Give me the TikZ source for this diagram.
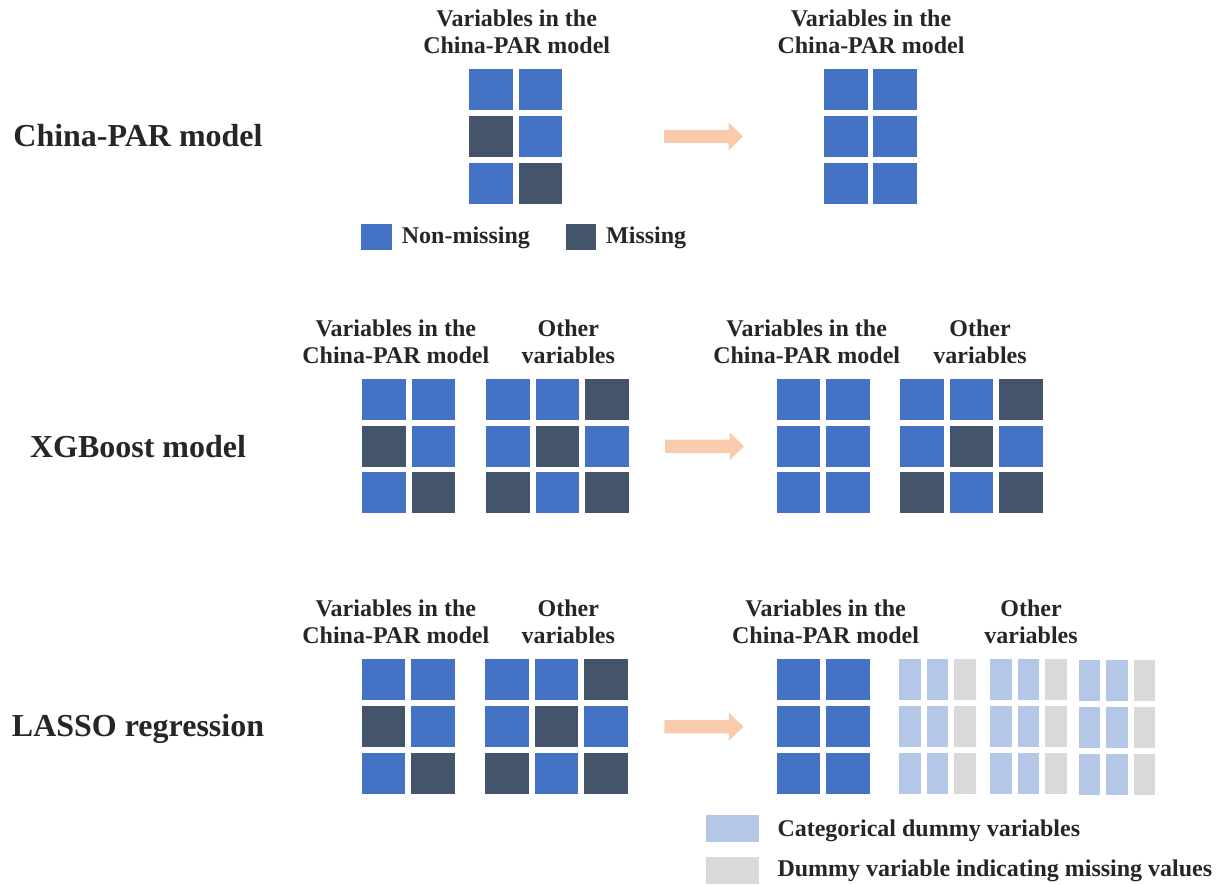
\documentclass[tikz,border=0pt]{standalone}
\usepackage{fontspec}
\setmainfont{Liberation Serif}
\begin{document}
\definecolor{nonmiss}{HTML}{4472C4}
\definecolor{miss}{HTML}{44546A}
\definecolor{catdummy}{HTML}{B4C7E7}
\definecolor{missdummy}{HTML}{D9D9D9}
\definecolor{arrowfill}{HTML}{F8CBAD}
\definecolor{ink}{HTML}{262626}
\begin{tikzpicture}[x=1pt,y=-1pt,
  cell/.style={inner sep=0,outer sep=0,draw=none,minimum width=43.5,minimum height=41,anchor=north west},
  slim/.style={cell,minimum width=21.5},
  % two-line headings: the base anchor sits on the second line
  title/.style={inner sep=0,align=center,anchor=base,text=ink,font=\bfseries\fontsize{24}{27.3}\selectfont},
  rowlabel/.style={inner sep=0,anchor=base,text=ink,font=\bfseries\fontsize{32}{36}\selectfont},
  legtext/.style={inner sep=0,anchor=base west,text=ink,font=\bfseries\fontsize{24}{27}\selectfont},
  legbox/.style={inner sep=0,outer sep=0,anchor=north west},
  blockarrow/.style={fill=arrowfill,draw=none}]
\useasboundingbox (0,0) rectangle (1225,884);

% block arrow: shaft start at (#1,#2)
\newcommand\blockarr[2]{%
  \fill[blockarrow] (#1,#2-6.7) -- ++(64.5,0) -- ++(0,-7.3) -- ++(14.5,14) -- ++(-14.5,14) -- ++(0,-7.3) -- ++(-64.5,0) -- cycle;}

% ---------------- row labels ----------------
\node[rowlabel] (lab1) at (138,146.7) {China-PAR model};
\node[rowlabel] (lab2) at (138,457) {XGBoost model};
\node[rowlabel] (lab3) at (138,736.7) {LASSO regression};

% ---------------- China-PAR model ----------------
\node[title] (t1l) at (516.7,53.3) {Variables in the\\China-PAR model};
\node[title] (t1r) at (871,53.3) {Variables in the\\China-PAR model};
\foreach \c/\r/\k in {0/0/nonmiss,1/0/nonmiss,0/1/miss,1/1/nonmiss,0/2/nonmiss,1/2/miss}
  \node[cell,fill=\k] (a-\c-\r) at ({469.3+\c*49.3},{69+\r*46.85}) {};
\foreach \c in {0,1} \foreach \r in {0,1,2}
  \node[cell,fill=nonmiss] (b-\c-\r) at ({824+\c*49.3},{69+\r*46.85}) {};
\blockarr{664}{136.5}

\node[legbox,fill=nonmiss,minimum width=31.6,minimum height=26] (k1) at (360.7,224) {};
\node[legtext] (k1t) at (401.7,243.3) {Non-missing};
\node[legbox,fill=miss,minimum width=30,minimum height=26] (k2) at (565.7,224) {};
\node[legtext] (k2t) at (606,243.3) {Missing};

% ---------------- XGBoost model ----------------
\node[title] (t2l) at (395.8,363.3) {Variables in the\\China-PAR model};
\node[title] (t2o) at (568.3,363.3) {Other\\variables};
\node[title] (t2r) at (806.7,363.3) {Variables in the\\China-PAR model};
\node[title] (t2p) at (980,363.3) {Other\\variables};
\foreach \c/\r/\k in {0/0/nonmiss,1/0/nonmiss,0/1/miss,1/1/nonmiss,0/2/nonmiss,1/2/miss}
  \node[cell,fill=\k] (c-\c-\r) at ({362.3+\c*49.6},{378.7+\r*46.85}) {};
\foreach \c/\r/\k in {0/0/nonmiss,1/0/nonmiss,2/0/miss,0/1/nonmiss,1/1/miss,2/1/nonmiss,0/2/miss,1/2/nonmiss,2/2/miss}
  \node[cell,fill=\k] (d-\c-\r) at ({486+\c*49.5},{378.7+\r*46.85}) {};
\blockarr{665}{446.3}
\foreach \c in {0,1} \foreach \r in {0,1,2}
  \node[cell,fill=nonmiss] (e-\c-\r) at ({776.7+\c*49.3},{378.7+\r*46.85}) {};
\foreach \c/\r/\k in {0/0/nonmiss,1/0/nonmiss,2/0/miss,0/1/nonmiss,1/1/miss,2/1/nonmiss,0/2/miss,1/2/nonmiss,2/2/miss}
  \node[cell,fill=\k] (f-\c-\r) at ({900+\c*49.5},{378.7+\r*46.85}) {};

% ---------------- LASSO regression ----------------
\node[title] (t3l) at (395.8,643.3) {Variables in the\\China-PAR model};
\node[title] (t3o) at (568.3,643.3) {Other\\variables};
\node[title] (t3r) at (825.6,643.3) {Variables in the\\China-PAR model};
\node[title] (t3p) at (1031,643.3) {Other\\variables};
\foreach \c/\r/\k in {0/0/nonmiss,1/0/nonmiss,0/1/miss,1/1/nonmiss,0/2/nonmiss,1/2/miss}
  \node[cell,fill=\k] (g-\c-\r) at ({361.7+\c*49.4},{659+\r*46.85}) {};
\foreach \c/\r/\k in {0/0/nonmiss,1/0/nonmiss,2/0/miss,0/1/nonmiss,1/1/miss,2/1/nonmiss,0/2/miss,1/2/nonmiss,2/2/miss}
  \node[cell,fill=\k] (h-\c-\r) at ({485.3+\c*49.4},{659+\r*46.85}) {};
\blockarr{664.4}{726.7}
\foreach \c in {0,1} \foreach \r in {0,1,2}
  \node[cell,fill=nonmiss] (i-\c-\r) at ({776.7+\c*49.3},{659+\r*46.85}) {};
% dummy-coded other variables: three groups of two categories plus a missing indicator
\foreach \g/\gx/\gy in {0/899.3/0,1/990.3/0,2/1078.7/1}
  \foreach \c/\k in {0/catdummy,1/catdummy,2/missdummy}
    \foreach \r in {0,1,2}
      \node[slim,fill=\k] (j-\g-\c-\r) at ({\gx+\c*27.4},{659+\gy+\r*46.85}) {};

\node[legbox,fill=catdummy,minimum width=53.6,minimum height=26.7] (k3) at (705.7,815) {};
\node[legtext] (k3t) at (777.3,836) {Categorical dummy variables};
\node[legbox,fill=missdummy,minimum width=53.6,minimum height=26.7] (k4) at (705.7,857.3) {};
\node[legtext] (k4t) at (777.3,876.7) {Dummy variable indicating missing values};
\end{tikzpicture}
\end{document}
